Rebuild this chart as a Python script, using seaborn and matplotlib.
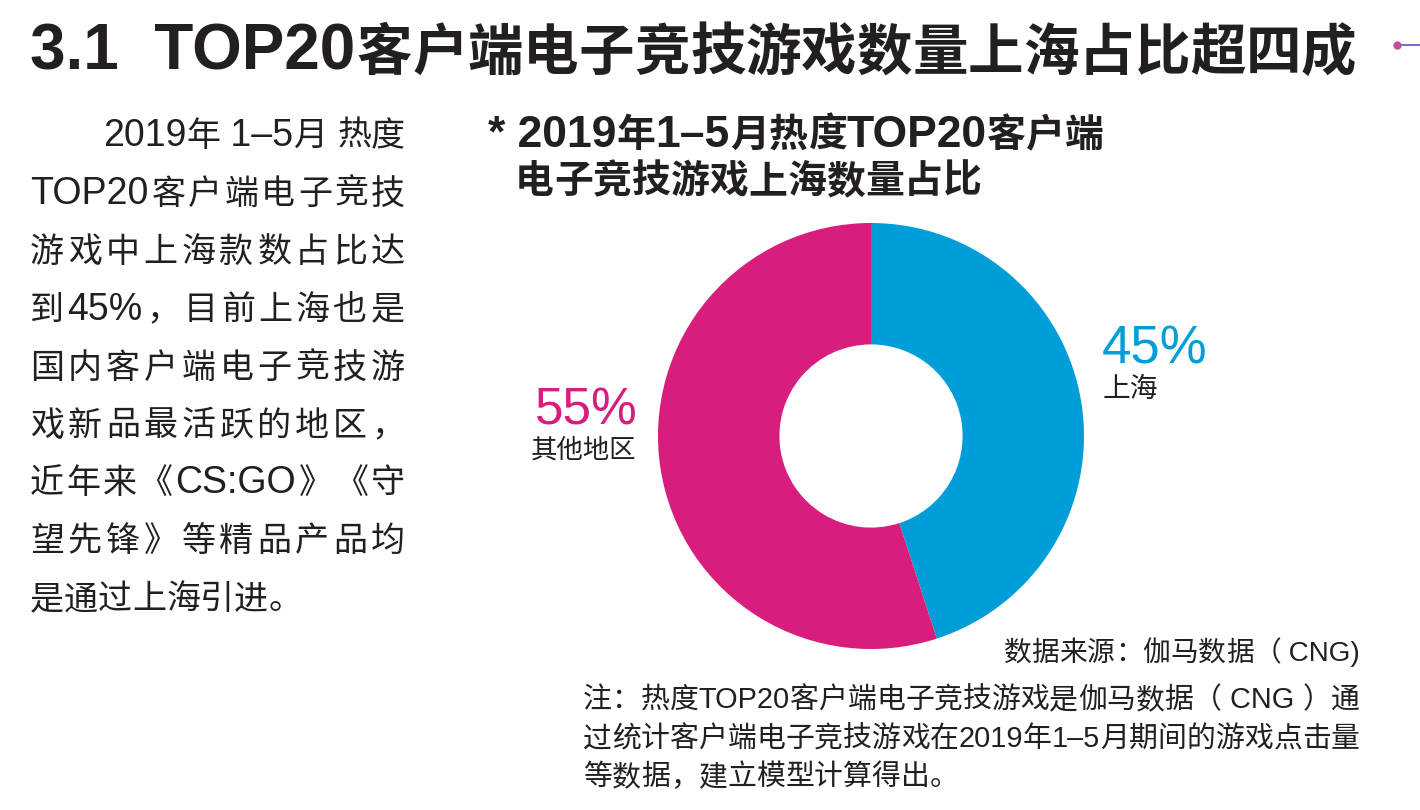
import matplotlib
matplotlib.use("Agg")
import matplotlib.pyplot as plt
from matplotlib.font_manager import FontProperties, findfont, get_font
import seaborn as sns

# data
regions = ["上海", "其他地区"]
shares = [45, 55]
colors = ["#009ed8", "#d81d7c"]

title = "3.1  TOP20客户端电子竞技游戏数量上海占比超四成"
chart_title = ["* 2019年1–5月热度TOP20客户端", "电子竞技游戏上海数量占比"]
body_lines = [
    "2019年 1–5月 热度",
    "TOP20客户端电子竞技",
    "游戏中上海款数占比达",
    "到45%，目前上海也是",
    "国内客户端电子竞技游",
    "戏新品最活跃的地区，",
    "近年来《CS:GO》《守",
    "望先锋》等精品产品均",
    "是通过上海引进。",
]
source = "数据来源：伽马数据（ CNG)"
note_lines = [
    "注：热度TOP20客户端电子竞技游戏是伽马数据（ CNG ）通",
    "过统计客户端电子竞技游戏在2019年1–5月期间的游戏点击量",
    "等数据，建立模型计算得出。",
]

sns.set_theme(style="white")
plt.rcParams['font.family'] = ['Liberation Sans', 'Noto Sans CJK SC']
ink = "#231f20"
LATIN, CJK = "Liberation Sans", "Noto Sans CJK SC"

W, H = 1420, 810
fig = plt.figure(figsize=(W / 100, H / 100), dpi=100)
fig.patch.set_facecolor("white")


def px(x, y):
    return x / W, 1 - y / H


def advance(s, family, size, weight):
    f = get_font(findfont(FontProperties(family=family, weight=weight)))
    f.set_size(size, 100)
    return sum(f.load_char(ord(c)).linearHoriAdvance / 65536 for c in s)


def split_units(s):
    # latin runs stay together, every CJK glyph is its own unit
    out, buf = [], ""
    for ch in s:
        if ord(ch) < 0x2E80:
            buf += ch
        else:
            if buf:
                out.append((buf, True))
                buf = ""
            out.append((ch, False))
    if buf:
        out.append((buf, True))
    return out


def mixed_text(x, y, s, size, lat_size, weight="normal", cjk_weight=None,
               width=None, right=False, color=ink):
    cjk_weight = cjk_weight or weight
    units = split_units(s)
    adv = [advance(u, LATIN, lat_size, weight) if lat else advance(u, CJK, size, cjk_weight)
           for u, lat in units]
    gap = 0
    if width is not None and len(units) > 1:
        gap = (width - sum(adv)) / (len(units) - 1)
    if right:
        x = x - sum(adv)
    for (u, lat), a in zip(units, adv):
        fig.text(*px(x, y), u, fontsize=lat_size if lat else size,
                 family=LATIN if lat else CJK,
                 fontweight=weight if lat else cjk_weight,
                 color=color, ha="left", va="baseline")
        x += a + gap


# page title
mixed_text(30, 70, title, 40, 46, weight="bold", cjk_weight="heavy")

# small decoration top right
deco = fig.add_axes([0, 0, 1, 1], facecolor="none")
deco.set_xlim(0, W)
deco.set_ylim(H, 0)
deco.axis("off")
deco.plot([1397, 1420], [45, 45], color="#7a6fc0", lw=1.5)
deco.plot([1397], [45], "o", color="#c0509a", ms=5)

# body paragraph (justified like the original layout)
y0, dy = 133, 57.9
for i, line in enumerate(body_lines):
    x = 103 if i == 0 else 30
    w = 405 - x if i < len(body_lines) - 1 else None
    mixed_text(x, y0 + i * dy + 13, line, 24.5, 27, width=w)

# chart title
mixed_text(488, 147, chart_title[0], 28, 32, weight="bold")
mixed_text(515, 193, chart_title[1], 28, 32, weight="bold")

# donut
cx, cy, r = 871, 436, 213
ax = fig.add_axes([(cx - r) / W, 1 - (cy + r) / H, 2 * r / W, 2 * r / H])
ax.pie(shares, colors=colors, startangle=90, counterclock=False,
       radius=1, wedgeprops=dict(width=0.57, linewidth=0))
ax.set_xlim(-1, 1)
ax.set_ylim(-1, 1)
ax.set_aspect("equal")
ax.axis("off")

# labels
fig.text(*px(1102, 350), f"{shares[0]}%", fontsize=38, color=colors[0], va="center", ha="left")
fig.text(*px(1103, 390), regions[0], fontsize=20, color=ink, va="center", ha="left")
fig.text(*px(586, 411), f"{shares[1]}%", fontsize=37, color=colors[1], va="center", ha="center")
fig.text(*px(584, 450), regions[1], fontsize=19, color=ink, va="center", ha="center")

# source and note
mixed_text(1360, 661, source, 20, 20, right=True)
note_y = [708, 747, 785]
for i, line in enumerate(note_lines):
    w = 1360 - 583 if i < len(note_lines) - 1 else None
    mixed_text(583, note_y[i], line, 20.8, 20.8, width=w)

fig.savefig("out.png", dpi=100, facecolor="white")
